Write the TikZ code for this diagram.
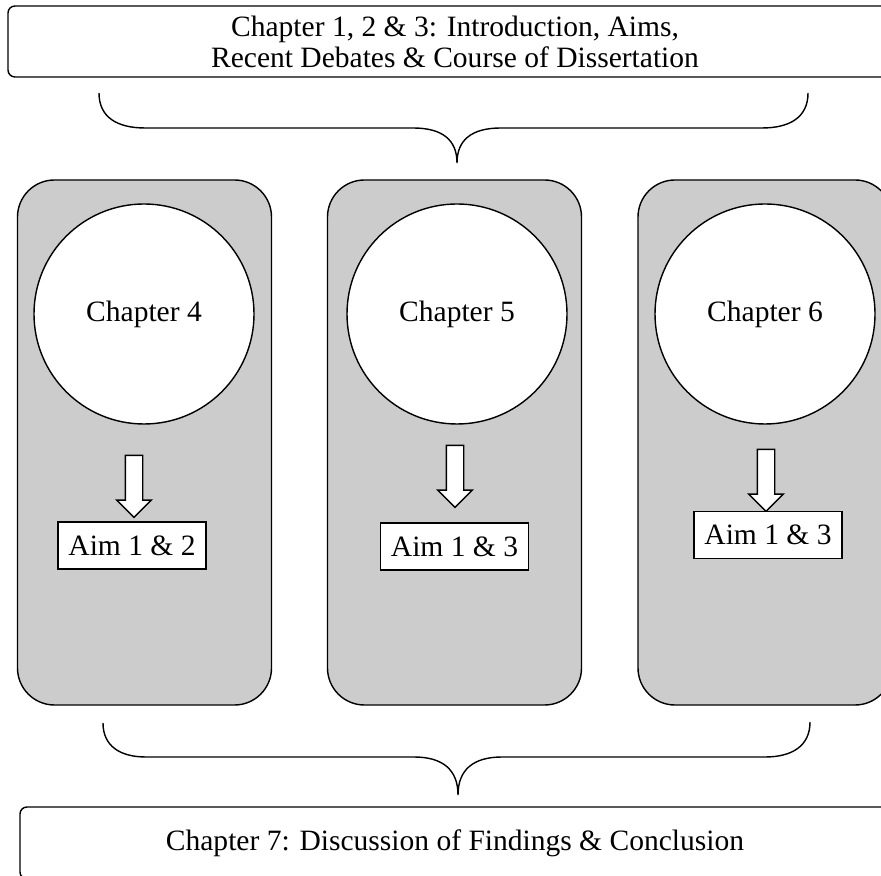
\documentclass[tikz,border=0pt]{standalone}
\usepackage{fontspec}
\setmainfont{Liberation Serif}
\usepackage{tikz}
\usetikzlibrary{shapes.arrows}

\tikzset{
  txt/.style={font=\fontsize{16.8}{17.6}\selectfont},
  chapbox/.style={draw, thick, rounded corners=0.14cm, fill=white, txt, align=center},
  panel/.style={draw, thick, rounded corners=0.74cm, fill=black!20, minimum width=5.08cm, minimum height=10.5cm},
  chapcircle/.style={circle, draw, thick, fill=white, minimum size=4.4cm, txt},
  aimbox/.style={draw, thick, fill=white, minimum height=0.94cm, minimum width=2.96cm, txt},
  downarrow/.style={single arrow, draw, thick, fill=white, rotate=-90, minimum height=1.24cm,
    minimum width=0.66cm, single arrow head extend=0.17cm, inner xsep=0pt, inner ysep=0.16cm}
}

\begin{document}
\begin{tikzpicture}
    \clip (0,0) rectangle (17.62,17.5);
    % intro
    \node[chapbox, minimum width=17.88cm, minimum height=1.42cm] (intro) at (9.1,16.67)
      {Chapter 1, 2 \& 3: Introduction, Aims,\\ Recent Debates \& Course of Dissertation};
    \draw[thick] (1.98,15.64) .. controls (1.98,15.15) and (2.35,14.94) .. (2.9,14.94) -- (8.26,14.94)
      .. controls (8.85,14.94) and (9.14,14.7) .. (9.14,14.24)
      .. controls (9.14,14.7) and (9.43,14.94) .. (10.02,14.94) -- (15.24,14.94)
      .. controls (15.79,14.94) and (16.16,15.15) .. (16.16,15.64);
    % chapters 4-6
    \foreach \n/\px/\cx/\ax/\ay/\bx/\by/\aim in {
        4/2.89/2.88/2.68/7.86/2.64/6.59/{Aim 1 \& 2},
        5/9.09/9.14/9.1/8.06/9.09/6.57/{Aim 1 \& 3},
        6/15.3/15.3/15.32/7.98/15.36/6.8/{Aim 1 \& 3}} {
      \node[panel] (p\n) at (\px,8.65) {};
      \node[chapcircle] (c\n) at (\cx,11.22) {Chapter \n};
      \node[downarrow] (d\n) at (\ax,\ay) {};
      \node[aimbox] (a\n) at (\bx,\by) {\aim};
    }
    \draw[thick] (2.06,3.04) .. controls (2.06,2.58) and (2.4,2.36) .. (2.92,2.36) -- (8.28,2.36)
      .. controls (8.86,2.36) and (9.16,2.1) .. (9.16,1.6)
      .. controls (9.16,2.1) and (9.46,2.36) .. (10.04,2.36) -- (15.3,2.36)
      .. controls (15.84,2.36) and (16.2,2.58) .. (16.2,3.06);
    % conclusion
    \node[chapbox, minimum width=17.4cm, minimum height=1.44cm] (concl) at (9.1,0.64)
      {Chapter 7: Discussion of Findings \& Conclusion};
\end{tikzpicture}
\end{document}
